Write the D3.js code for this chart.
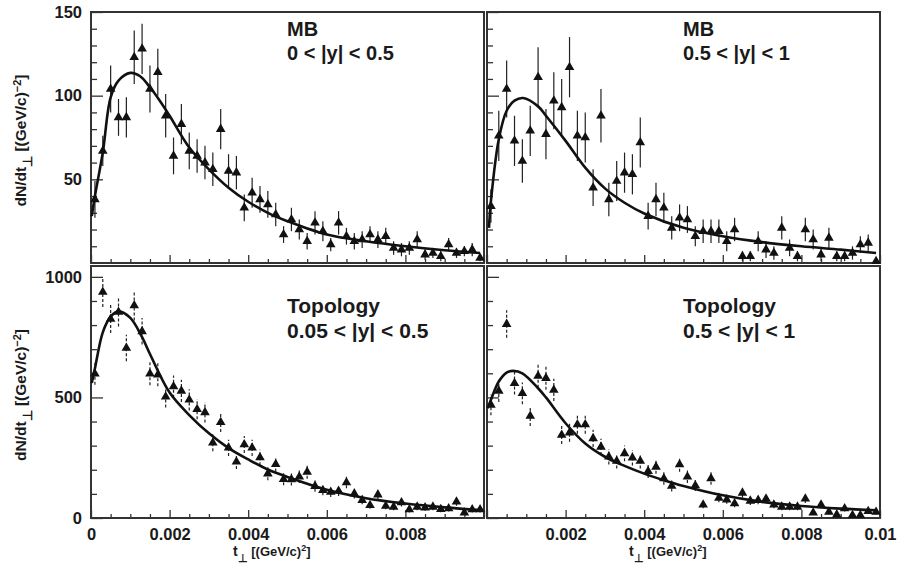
<!DOCTYPE html>
<html>
<head>
<meta charset="utf-8">
<script src="https://cdn.jsdelivr.net/npm/d3@7"></script>
<style>
  body { margin: 0; background: #fff; }
  svg { display: block; font-family: "Liberation Sans", Arial, Helvetica, sans-serif; font-weight: bold; }
</style>
</head>
<body>
<svg id="chart" width="899" height="567"></svg>
<script>
// t_perp のビン中心 [(GeV/c)^2]
const tBins = [0.0001, 0.0003, 0.0005, 0.0007, 0.0009, 0.0011, 0.0013, 0.0015, 0.0017, 0.0019,
  0.0021, 0.0023, 0.0025, 0.0027, 0.0029, 0.0031, 0.0033, 0.0035, 0.0037, 0.0039,
  0.0041, 0.0043, 0.0045, 0.0047, 0.0049, 0.0051, 0.0053, 0.0055, 0.0057, 0.0059,
  0.0061, 0.0063, 0.0065, 0.0067, 0.0069, 0.0071, 0.0073, 0.0075, 0.0077, 0.0079,
  0.0081, 0.0083, 0.0085, 0.0087, 0.0089, 0.0091, 0.0093, 0.0095, 0.0097, 0.0099];

// MB 0 < |y| < 0.5
const mbLowY = [38, 67, 104, 87, 87, 123, 128, 104, 114, 88, 64, 83, 67, 64, 60, 56, 80, 55, 54, 33,
  42, 38, 35, 29, 17, 26, 20, 13, 24, 19, 11, 24, 16, 13, 14, 17, 14, 16, 9, 8,
  9, 14, 5, 6, 4, 11, 6, 7, 8, 3];
const mbLowErr = [11, 9, 14, 11, 12, 16, 15, 14, 14, 13, 11, 12, 11, 10, 10, 10, 12, 10, 10, 8,
  9, 8, 8, 7, 5, 7, 6, 5, 7, 6, 4, 7, 5, 5, 5, 5, 5, 5, 4, 4,
  4, 5, 3, 3, 3, 4, 3, 3, 4, 2];
const mbLowFit = [[0.00002, 28], [0.0001, 40], [0.0003, 66], [0.0005, 99], [0.0007, 109], [0.001, 113.6],
  [0.00125, 111.6], [0.0015, 105], [0.00175, 97], [0.002, 88], [0.0025, 69], [0.003, 56], [0.0035, 45],
  [0.004, 36.6], [0.0045, 30], [0.005, 25], [0.006, 17], [0.007, 13], [0.008, 10], [0.009, 7.6], [0.0099, 6]];

// MB 0.5 < |y| < 1
const mbHighY = [34, 76, 104, 73, 61, 79, 111, 77, 97, 93, 117, 76, 75, 45, 88, 38, 49, 54, 53, 72,
  28, 38, 33, 21, 27, 26, 16, 19, 19, 19, 13, 20, 4, 4, 13, 8, 6, 21, 9, 4,
  20, 14, 5, 15, 4, 4, 6, 11, 12, 1];
const mbHighErr = [10, 15, 17, 15, 13, 15, 18, 15, 17, 17, 18, 15, 15, 11, 16, 10, 12, 12, 12, 15,
  8, 10, 9, 7, 8, 8, 6, 7, 7, 7, 6, 7, 3, 3, 6, 5, 4, 7, 5, 3,
  7, 6, 4, 6, 3, 3, 4, 5, 5, 1];
const mbHighFit = [[0.00005, 21], [0.0001, 37], [0.0003, 74], [0.0005, 91], [0.0007, 97], [0.00092, 98.6],
  [0.0013, 93.6], [0.0015, 88], [0.002, 73], [0.0025, 57], [0.003, 44.6], [0.0035, 36], [0.004, 29.6],
  [0.005, 21], [0.006, 16], [0.007, 12.5], [0.008, 10], [0.009, 8], [0.0099, 6]];

// Topology 0.05 < |y| < 0.5
const topoLowY = [598, 937, 825, 854, 705, 881, 774, 598, 594, 503, 545, 527, 490, 451, 438, 312, 397, 291, 233, 305,
  291, 251, 184, 223, 161, 160, 171, 191, 132, 115, 108, 112, 147, 101, 74, 53, 97, 50, 46, 64,
  35, 46, 43, 46, 36, 39, 67, 22, 35, 35];
const topoLowErr = [45, 62, 58, 60, 55, 62, 55, 48, 48, 45, 46, 46, 44, 42, 42, 35, 40, 34, 30, 35,
  34, 32, 27, 30, 25, 25, 26, 28, 23, 21, 21, 21, 24, 20, 17, 15, 20, 14, 14, 16,
  12, 14, 13, 14, 12, 12, 16, 9, 12, 12];
const topoLowFit = [[0.00002, 560], [0.0001, 620], [0.0003, 770], [0.0005, 835], [0.0007, 857], [0.001, 830],
  [0.0013, 750], [0.0015, 680], [0.002, 520], [0.0025, 427], [0.003, 351], [0.0035, 290], [0.004, 243],
  [0.0045, 201], [0.005, 170], [0.006, 117], [0.007, 82], [0.008, 60], [0.009, 44], [0.0099, 33]];

// Topology 0.5 < |y| < 1
const topoHighY = [469, 527, 804, 559, 517, 423, 589, 580, 531, 344, 354, 388, 388, 330, 295, 254, 236, 268, 250, 236,
  194, 212, 164, 133, 222, 171, 135, 55, 164, 83, 76, 60, 104, 71, 74, 80, 55, 46, 46, 46,
  80, 22, 55, 25, 14, 39, 11, 11, 28, 25];
const topoHighErr = [43, 46, 57, 47, 45, 41, 49, 48, 46, 37, 38, 39, 39, 36, 34, 32, 31, 33, 32, 31,
  28, 29, 26, 23, 30, 26, 23, 15, 26, 18, 17, 15, 20, 17, 17, 18, 15, 14, 14, 14,
  18, 9, 15, 10, 7, 12, 7, 7, 11, 10];
const topoHighFit = [[0.00002, 455], [0.0001, 490], [0.0003, 566], [0.0005, 603], [0.00067, 610], [0.0009, 600],
  [0.0013, 538], [0.0015, 500], [0.002, 393], [0.0025, 309], [0.003, 254], [0.0035, 216], [0.004, 184],
  [0.0045, 157], [0.005, 133], [0.006, 94], [0.007, 67], [0.008, 50], [0.009, 39], [0.0099, 32]];

// 軸の目盛り
const xMajor = [0, 0.002, 0.004, 0.006, 0.008, 0.01];
const xMinor = [0.0005, 0.001, 0.0015, 0.0025, 0.003, 0.0035, 0.0045, 0.005, 0.0055,
  0.0065, 0.007, 0.0075, 0.0085, 0.009, 0.0095];
const xLabelsLeft = ["0", "0.002", "0.004", "0.006", "0.008", ""];
const xLabelsRight = ["", "0.002", "0.004", "0.006", "0.008", "0.01"];
const yMajorTop = [50, 100, 150];
const yMinorTop = [10, 20, 30, 40, 60, 70, 80, 90, 110, 120, 130, 140];
const yLabelsTop = ["50", "100", "150"];
const yMajorBottom = [0, 500, 1000];
const yMinorBottom = [100, 200, 300, 400, 600, 700, 800, 900];
const yLabelsBottom = ["0", "500", "1000"];

const panels = [
  { row: 0, col: 0, title: ["MB", "0 < |y| < 0.5"], y: mbLowY, err: mbLowErr, fit: mbLowFit },
  { row: 0, col: 1, title: ["MB", "0.5 < |y| < 1"], y: mbHighY, err: mbHighErr, fit: mbHighFit },
  { row: 1, col: 0, title: ["Topology", "0.05 < |y| < 0.5"], y: topoLowY, err: topoLowErr, fit: topoLowFit },
  { row: 1, col: 1, title: ["Topology", "0.5 < |y| < 1"], y: topoHighY, err: topoHighErr, fit: topoHighFit },
];

// レイアウト
const colLeft = [91, 487];
const panelWidth = 393;
const rowTop = [12, 266];
const rowBottom = [263, 518];
const rowDomain = [[0, 150], [0, 1045]];
const titleBase = [[36, 59.5], [313, 338]];
const titleSize = [20, 21];
const ink = "#1a1a1a";

const svg = d3.select("#chart");

function styleAxis(g) {
  g.select(".domain").remove();
  g.selectAll("line").attr("stroke", "#333").attr("stroke-width", 1.3);
  g.selectAll("text").attr("fill", ink).style("font-size", "16.5px").style("font-weight", "bold")
    .style("font-family", "'Liberation Sans', Arial, sans-serif");
}

panels.forEach((p) => {
  const x0 = colLeft[p.col];
  const x = d3.scaleLinear().domain([0, 0.01]).range([x0, x0 + panelWidth]);
  const y = d3.scaleLinear().domain(rowDomain[p.row]).range([rowBottom[p.row], rowTop[p.row]]);
  const g = svg.append("g");

  // 縦軸 (内向きの目盛り)
  const yMajor = p.row == 0 ? yMajorTop : yMajorBottom;
  const yMinor = p.row == 0 ? yMinorTop : yMinorBottom;
  const yLabels = p.row == 0 ? yLabelsTop : yLabelsBottom;
  g.append("g").attr("transform", `translate(${x0},0)`)
    .call(d3.axisLeft(y).tickValues(yMinor).tickSize(-6).tickFormat(""))
    .call(styleAxis);
  g.append("g").attr("transform", `translate(${x0},0)`)
    .call(d3.axisLeft(y).tickValues(yMajor).tickSize(-12).tickPadding(9)
      .tickFormat((d, i) => (p.col == 0 ? yLabels[i] : "")))
    .call(styleAxis);

  // 横軸
  const xLabels = p.col == 0 ? xLabelsLeft : xLabelsRight;
  g.append("g").attr("transform", `translate(0,${rowBottom[p.row]})`)
    .call(d3.axisBottom(x).tickValues(xMinor).tickSize(-4).tickFormat(""))
    .call(styleAxis);
  g.append("g").attr("transform", `translate(0,${rowBottom[p.row]})`)
    .call(d3.axisBottom(x).tickValues(xMajor).tickSize(-8).tickPadding(10)
      .tickFormat((d, i) => (p.row == 1 ? xLabels[i] : "")))
    .call(styleAxis);

  // 枠
  g.append("rect")
    .attr("x", x0).attr("y", rowTop[p.row])
    .attr("width", panelWidth).attr("height", rowBottom[p.row] - rowTop[p.row])
    .attr("fill", "none").attr("stroke", "#333").attr("stroke-width", 2);

  // 誤差棒
  const pts = tBins.map((t, i) => ({ t: t, v: p.y[i], e: p.err[i] }));
  g.append("g").selectAll("line").data(pts).enter().append("line")
    .attr("x1", (d) => x(d.t)).attr("x2", (d) => x(d.t))
    .attr("y1", (d) => y(Math.max(d.v - d.e, 0))).attr("y2", (d) => y(d.v + d.e))
    .attr("stroke", "#222").attr("stroke-width", 1.2)
    .attr("stroke-dasharray", p.row == 1 ? "3,2" : null);

  // フィット曲線
  g.append("path").datum(p.fit)
    .attr("fill", "none").attr("stroke", "#111").attr("stroke-width", 2.6)
    .attr("d", d3.line().x((d) => x(d[0])).y((d) => y(d[1])).curve(d3.curveCatmullRom.alpha(0.5)));

  // 三角マーカー
  g.append("g").selectAll("path").data(pts).enter().append("path")
    .attr("transform", (d) => `translate(${x(d.t)},${y(d.v)})`)
    .attr("d", d3.symbol().type(d3.symbolTriangle).size(40))
    .attr("fill", "#111");

  // パネルのラベル
  p.title.forEach((s, i) => {
    g.append("text")
      .attr("x", x0 + 196).attr("y", titleBase[p.row][i])
      .attr("fill", ink).style("font-size", `${titleSize[p.row]}px`)
      .text(s);
  });

  // 横軸タイトル
  if (p.row == 1) {
    const xt = g.append("text").attr("x", x0 + 142).attr("y", 556).attr("fill", ink).style("font-size", "14px");
    xt.append("tspan").text("t");
    xt.append("tspan").attr("dy", 6).style("font-size", "11px").text("⊥");
    xt.append("tspan").attr("dy", -6).style("font-size", "13px").text(" [(GeV/c)");
    xt.append("tspan").attr("dy", -5).style("font-size", "9px").text("2");
    xt.append("tspan").attr("dy", 5).style("font-size", "13px").text("]");
  }

  // 縦軸タイトル
  if (p.col == 0) {
    const cy = (rowTop[p.row] + rowBottom[p.row]) / 2 + 3;
    const yt = g.append("text").attr("transform", `translate(26,${cy}) rotate(-90)`)
      .attr("text-anchor", "middle").attr("fill", ink).style("font-size", "15.5px");
    yt.append("tspan").text("dN/dt");
    yt.append("tspan").attr("dy", 6).style("font-size", "13px").text("⊥");
    yt.append("tspan").attr("dy", -6).text(" [(GeV/c)");
    yt.append("tspan").attr("dy", -5).style("font-size", "11px").text("−2");
    yt.append("tspan").attr("dy", 5).text("]");
  }
});
</script>
</body>
</html>
